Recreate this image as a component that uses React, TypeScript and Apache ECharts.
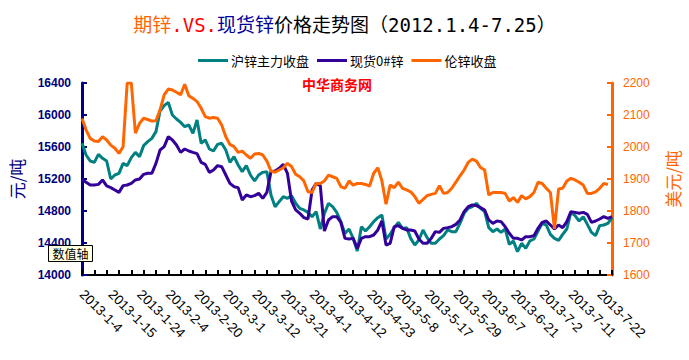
import React, { useEffect, useRef } from 'react';
import * as echarts from 'echarts';

const days = [
  '1-4','1-7','1-8','1-9','1-10','1-11','1-14','1-15','1-16','1-17','1-18','1-21','1-22','1-23','1-24','1-25','1-28','1-29','1-30','1-31',
  '2-1','2-4','2-5','2-6','2-7','2-8','2-18','2-19','2-20','2-21','2-22','2-25','2-26','2-27','2-28',
  '3-1','3-4','3-5','3-6','3-7','3-8','3-11','3-12','3-13','3-14','3-15','3-18','3-19','3-20','3-21','3-22','3-25','3-26','3-27','3-28','3-29',
  '4-1','4-2','4-3','4-8','4-9','4-10','4-11','4-12','4-15','4-16','4-17','4-18','4-19','4-22','4-23','4-24','4-25',
  '5-2','5-3','5-6','5-7','5-8','5-9','5-10','5-13','5-14','5-15','5-16','5-17','5-20','5-21','5-22','5-23','5-24','5-27','5-29','5-30','5-31',
  '6-3','6-4','6-5','6-6','6-7','6-13','6-14','6-17','6-18','6-19','6-20','6-21','6-24','6-25','6-26','6-27','6-28',
  '7-1','7-2','7-3','7-4','7-5','7-8','7-9','7-10','7-11','7-12','7-15','7-16','7-17','7-18','7-19','7-22','7-23','7-24','7-25',
];
const categories = days.map((d) => '2013-' + d);

// 沪锌主力收盘 (元/吨)
const shfeClose = [
  15646, 15500, 15425, 15408, 15508, 15458, 15425, 15200, 15250, 15271,
  15396, 15367, 15467, 15533, 15479, 15617, 15667, 15708, 15792, 16050,
  16117, 16158, 16000, 15950, 15908, 15854, 15875, 15771, 15938, 15646,
  15688, 15575, 15550, 15633, 15646, 15563, 15408, 15479, 15375, 15292,
  15367, 15250, 15175, 15250, 15283, 15292, 15000, 14854, 14917, 14979,
  14958, 14992, 14896, 14833, 14813, 14783, 14729, 14792, 14575, 14771,
  14896, 14854, 14783, 14667, 14520, 14575, 14458, 14300, 14604, 14550,
  14604, 14667, 14717, 14750, 14450, 14508, 14592, 14658, 14583, 14592,
  14458, 14375, 14438, 14563, 14467, 14396, 14396, 14450, 14492, 14563,
  14542, 14542, 14646, 14771, 14833, 14854, 14896, 14833, 14792, 14592,
  14542, 14575, 14533, 14575, 14383, 14425, 14292, 14396, 14333, 14425,
  14450, 14550, 14646, 14625, 14508, 14458, 14433, 14508, 14575, 14783,
  14742, 14675, 14729, 14633, 14533, 14492, 14617, 14625, 14646, 14717,
];

// 现货0#锌 (元/吨)
const spotZinc = [
  15200, 15158, 15125, 15125, 15133, 15188, 15113, 15092, 15063, 15033,
  15117, 15125, 15146, 15188, 15200, 15258, 15271, 15271, 15396, 15563,
  15604, 15729, 15688, 15625, 15533, 15575, 15550, 15533, 15517, 15408,
  15383, 15283, 15313, 15367, 15354, 15250, 15146, 15104, 15092, 14938,
  15000, 14979, 14992, 15021, 14958, 15033, 15292, 15300, 15333, 15383,
  15271, 14925, 14813, 14771, 14717, 14700, 15063, 15146, 15117, 14550,
  14688, 14729, 14729, 14658, 14458, 14450, 14458, 14333, 14458, 14479,
  14479, 14500, 14563, 14675, 14375, 14396, 14604, 14617, 14583, 14563,
  14563, 14550, 14450, 14396, 14396, 14458, 14542, 14533, 14583, 14592,
  14604, 14633, 14688, 14792, 14854, 14875, 14867, 14842, 14813, 14688,
  14646, 14675, 14667, 14604, 14521, 14458, 14458, 14438, 14479, 14479,
  14492, 14583, 14658, 14675, 14625, 14575, 14625, 14592, 14667, 14792,
  14783, 14771, 14783, 14758, 14658, 14675, 14700, 14729, 14708, 14729,
];

// 伦锌收盘 (美元/吨)
const lmeClose = [
  2089, 2053, 2027, 2019, 2017, 2032, 2022, 2006, 1996, 1980,
  2001, 2200, 2200, 2043, 2074, 2090, 2086, 2081, 2082, 2116,
  2163, 2181, 2178, 2171, 2163, 2196, 2160, 2152, 2142, 2121,
  2095, 2090, 2092, 2090, 2069, 2032, 2008, 2001, 1983, 1987,
  1975, 1965, 1978, 1980, 1975, 1956, 1925, 1921, 1928, 1935,
  1949, 1939, 1915, 1907, 1894, 1860, 1858, 1886, 1886, 1894,
  1912, 1907, 1902, 1876, 1871, 1894, 1881, 1886, 1886, 1883,
  1878, 1918, 1935, 1894, 1821, 1881, 1873, 1890, 1871, 1866,
  1860, 1845, 1824, 1836, 1848, 1852, 1855, 1879, 1855, 1858,
  1871, 1890, 1910, 1928, 1952, 1962, 1956, 1936, 1928, 1850,
  1858, 1858, 1858, 1855, 1831, 1842, 1827, 1848, 1838, 1845,
  1858, 1890, 1886, 1871, 1858, 1744, 1869, 1871, 1894, 1902,
  1897, 1890, 1881, 1855, 1855, 1860, 1871, 1886, 1883, null,
];

const seriesNames = ['沪锌主力收盘', '现货0#锌', '伦锌收盘'];
const seriesColors = ['#008080', '#330099', '#FF6600'];

const TITLE_FONT = "'DejaVu Sans Mono','Noto Sans CJK SC'";

export default function App() {
  const ref = useRef<HTMLDivElement>(null);
  useEffect(() => {
    const chart = echarts.init(ref.current!, null, { renderer: 'svg' });
    chart.setOption({
      animation: false,
      backgroundColor: '#ffffff',
      title: {
        left: 'center',
        top: 10,
        text: '{a|期锌}{b|.VS.}{c|现货锌}{d|价格走势图（2012.1.4-7.25）}',
        textStyle: {
          fontSize: 19,
          fontWeight: 'normal',
          fontFamily: TITLE_FONT,
          rich: {
            a: { color: '#FF6600', fontSize: 19, fontFamily: TITLE_FONT },
            b: { color: '#FF0000', fontSize: 19, fontFamily: TITLE_FONT },
            c: { color: '#000099', fontSize: 19, fontFamily: TITLE_FONT },
            d: { color: '#000000', fontSize: 19, fontFamily: TITLE_FONT },
          },
        },
      },
      legend: {
        left: 193,
        top: 49,
        itemWidth: 30,
        itemHeight: 3,
        itemGap: 8,
        icon: 'rect',
        data: seriesNames,
        textStyle: { fontSize: 13, color: '#000', fontFamily: "'Noto Sans CJK SC'", padding: [0, 0, 0, -2] },
      },
      grid: { left: 79, right: 73, top: 83, bottom: 85, containLabel: false },
      xAxis: {
        type: 'category',
        data: categories,
        boundaryGap: false,
        axisLine: { onZero: false, lineStyle: { color: '#000', width: 2 } },
        axisTick: { inside: true, length: 5, interval: 2, lineStyle: { color: '#000', width: 2 } },
        axisLabel: {
          interval: 6,
          rotate: -45,
          margin: 17,
          fontSize: 13.5,
          fontFamily: 'Arial, "Liberation Sans"',
          color: '#000',
        },
        splitLine: { show: false },
      },
      yAxis: [
        {
          type: 'value',
          position: 'left',
          min: 14000,
          max: 16400,
          interval: 400,
          name: '元/吨',
          nameLocation: 'middle',
          nameGap: 57,
          nameTextStyle: { color: '#000080', fontSize: 17, fontFamily: "'Noto Sans CJK SC'" },
          axisLine: { show: true, onZero: false, lineStyle: { color: '#000080', width: 3 } },
          axisTick: { show: true, inside: true, length: 5, lineStyle: { color: '#000080', width: 2 } },
          axisLabel: {
            color: '#000080',
            fontWeight: 'bold',
            fontSize: 12,
            margin: 11,
            fontFamily: 'Arial, "Liberation Sans"',
            formatter: (v: number) => String(v),
          },
          splitLine: { show: false },
        },
        {
          type: 'value',
          position: 'right',
          min: 1600,
          max: 2200,
          interval: 100,
          name: '美元/吨',
          nameLocation: 'middle',
          nameGap: 52,
          nameTextStyle: { color: '#FF6600', fontSize: 17, fontFamily: "'Noto Sans CJK SC'" },
          axisLine: { show: true, onZero: false, lineStyle: { color: '#FF6600', width: 3 } },
          axisTick: { show: true, inside: true, length: 5, lineStyle: { color: '#FF6600', width: 2 } },
          axisLabel: {
            color: '#FF6600',
            fontSize: 12,
            margin: 11,
            fontFamily: 'Arial, "Liberation Sans"',
            formatter: (v: number) => String(v),
          },
          splitLine: { show: false },
        },
      ],
      series: [
        {
          name: seriesNames[0],
          type: 'line',
          data: shfeClose,
          yAxisIndex: 0,
          symbol: 'none',
          color: seriesColors[0],
          lineStyle: { color: seriesColors[0], width: 3 },
        },
        {
          name: seriesNames[1],
          type: 'line',
          data: spotZinc,
          yAxisIndex: 0,
          symbol: 'none',
          color: seriesColors[1],
          lineStyle: { color: seriesColors[1], width: 3 },
        },
        {
          name: seriesNames[2],
          type: 'line',
          data: lmeClose,
          yAxisIndex: 1,
          symbol: 'none',
          color: seriesColors[2],
          lineStyle: { color: seriesColors[2], width: 3 },
        },
      ],
      graphic: [
        {
          type: 'text',
          left: 302,
          top: 77,
          z: 50,
          style: {
            text: '中华商务网',
            fill: '#FF0000',
            font: "bold 14px 'Noto Sans CJK SC'",
          },
        },
        {
          type: 'group',
          left: 48,
          top: 245,
          z: 100,
          children: [
            {
              type: 'rect',
              shape: { x: 0, y: 0, width: 44, height: 16 },
              style: { fill: '#FFFFE1', stroke: '#000', lineWidth: 1 },
              z: 100,
            },
            {
              type: 'text',
              x: 4,
              y: 2,
              z: 101,
              style: { text: '数值轴', fill: '#000', font: "12px 'Noto Sans CJK SC'" },
            },
          ],
        },
      ],
    });
    return () => chart.dispose();
  }, []);
  return (
    <div
      ref={ref}
      style={{ position: 'fixed', left: 0, top: 0, width: 689, height: 360 }}
    />
  );
}
